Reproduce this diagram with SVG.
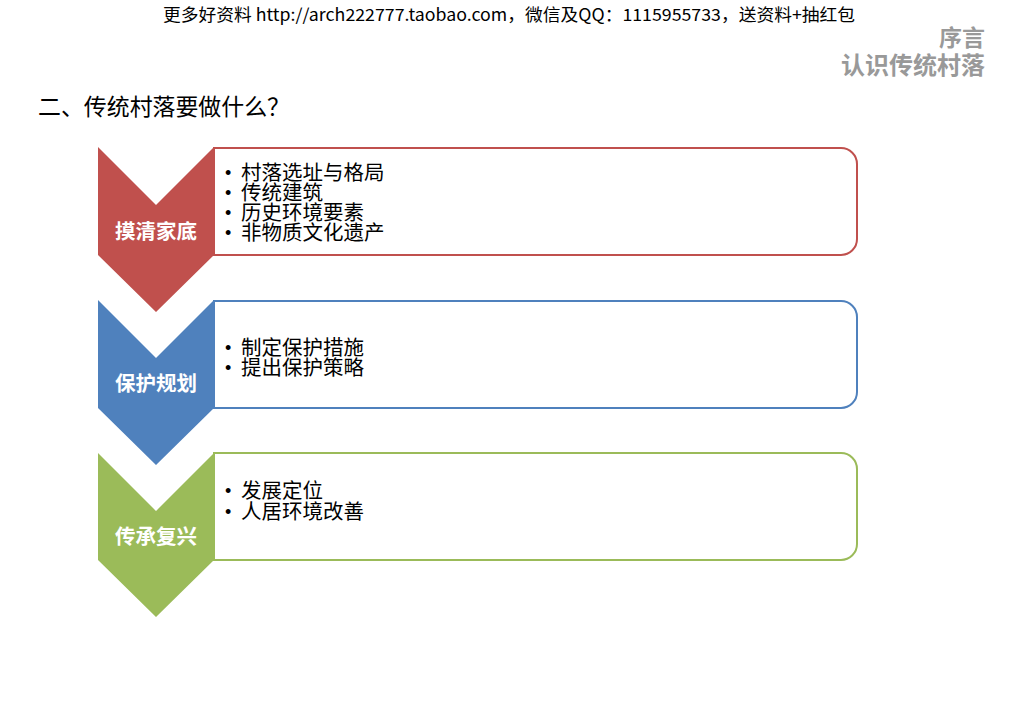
<svg xmlns="http://www.w3.org/2000/svg" width="1024" height="724" viewBox="0 0 1024 724">
<style>
.cjk{font-family:"Noto Sans CJK SC","Noto Sans",sans-serif}
.lbl{font-size:20.5px;font-weight:bold;fill:#fff;text-anchor:middle}
.item{font-size:20.5px;fill:#000}
.bul{font-family:"Liberation Sans",Arial,sans-serif;font-size:18px;fill:#000}
.box{fill:#fff;stroke-width:2}
</style>
<rect width="1024" height="724" fill="#fff"/>
<text class="cjk" x="163" y="21" font-size="17" textLength="692" lengthAdjust="spacingAndGlyphs" fill="#000">更多好资料 http://arch222777.taobao.com，微信及QQ：1115955733，送资料+抽红包</text>
<text class="cjk" x="985" y="46" font-size="23" font-weight="bold" text-anchor="end" fill="#999">序言</text>
<text class="cjk" x="985" y="74" font-size="24" font-weight="bold" text-anchor="end" fill="#999">认识传统村落</text>
<text class="cjk" x="38" y="115" font-size="23" textLength="252" lengthAdjust="spacingAndGlyphs" fill="#000">二、传统村落要做什么？</text>
<g id="connectors"></g>
<g id="node1">
<path class="box" stroke="#C0504D" d="M214 148 H841 A16 16 0 0 1 857 164 V239 A16 16 0 0 1 841 255 H214 Z"/>
<path fill="#C0504D" d="M98 147 L156 205 L214 147 V255 L156 312 L98 255 Z"/>
<text class="cjk lbl" x="156" y="239">摸清家底</text>
<text class="bul"><tspan x="225" y="179">•</tspan><tspan x="225" y="199">•</tspan><tspan x="225" y="219">•</tspan><tspan x="225" y="239">•</tspan></text>
<text class="cjk item"><tspan x="241" y="180">村落选址与格局</tspan><tspan x="241" y="200">传统建筑</tspan><tspan x="241" y="220">历史环境要素</tspan><tspan x="241" y="240">非物质文化遗产</tspan></text>
</g>
<g id="node2">
<path class="box" stroke="#4F81BD" d="M214 301 H841 A16 16 0 0 1 857 317 V392 A16 16 0 0 1 841 408 H214 Z"/>
<path fill="#4F81BD" d="M98 300 L156 358 L214 300 V408 L156 465 L98 408 Z"/>
<text class="cjk lbl" x="156" y="391">保护规划</text>
<text class="bul"><tspan x="225" y="354">•</tspan><tspan x="225" y="374">•</tspan></text>
<text class="cjk item"><tspan x="241" y="355">制定保护措施</tspan><tspan x="241" y="375">提出保护策略</tspan></text>
</g>
<g id="node3">
<path class="box" stroke="#9BBB59" d="M214 453 H841 A16 16 0 0 1 857 469 V544 A16 16 0 0 1 841 560 H214 Z"/>
<path fill="#9BBB59" d="M98 453 L156 511 L214 453 V560 L156 617 L98 560 Z"/>
<text class="cjk lbl" x="156" y="544">传承复兴</text>
<text class="bul"><tspan x="225" y="497">•</tspan><tspan x="225" y="518">•</tspan></text>
<text class="cjk item"><tspan x="241" y="498">发展定位</tspan><tspan x="241" y="519">人居环境改善</tspan></text>
</g>
</svg>
